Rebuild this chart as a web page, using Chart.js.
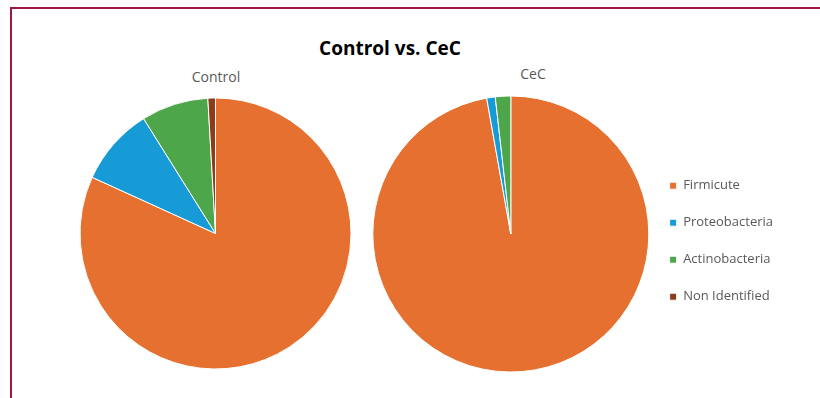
<!DOCTYPE html>
<html>
<head>
<meta charset="utf-8">
<script src="https://cdn.jsdelivr.net/npm/chart.js@4.4.0/dist/chart.umd.min.js"></script>
<style>
  html, body { margin: 0; padding: 0; background: #fff; }
  body { width: 820px; height: 398px; position: relative; overflow: hidden; font-family: "Open Sans", sans-serif; }
  #frame { position: absolute; left: 10px; top: 7px; width: 820px; height: 400px; border-top: 2px solid #a3154a; border-left: 2px solid #a3154a; }
  .txt { position: absolute; transform: translate(-50%, -50%); white-space: nowrap; }
  #title { left: 390px; top: 48px; font-size: 19px; font-weight: bold; color: #000; }
  .sub { font-size: 14px; color: #595959; }
  #c1 { position: absolute; left: 60px; top: 90px; }
  #c2 { position: absolute; left: 360px; top: 90px; }
</style>
</head>
<body>
<div id="frame"></div>
<div id="title" class="txt">Control vs. CeC</div>
<div class="txt sub" style="left:216px; top:76px;">Control</div>
<div class="txt sub" style="left:533px; top:73px;">CeC</div>
<canvas id="c1" width="311" height="287"></canvas>
<canvas id="c2" width="423" height="288"></canvas>
<script>
const phyla = ['Firmicute', 'Proteobacteria', 'Actinobacteria', 'Non Identified'];
const controlValues = [81.8, 9.3, 8.0, 0.9];
const cecValues = [97.2, 1.0, 1.8, 0];
const sliceColors = ['#e5702f', '#169bd6', '#4da64a', '#8c3b1b'];

function makePie(canvasId, values, radius, showLegend, padLeft) {
  const ctx = document.getElementById(canvasId).getContext('2d');
  return new Chart(ctx, {
    type: 'pie',
    data: {
      labels: phyla,
      datasets: [{
        data: values,
        backgroundColor: sliceColors,
        borderColor: '#ffffff',
        borderWidth: 1,
        radius: radius,
        clip: false
      }]
    },
    options: {
      responsive: false,
      animation: false,
      layout: { padding: { left: padLeft } },
      plugins: {
        title: { display: false },
        tooltip: { enabled: false },
        legend: {
          display: showLegend,
          position: 'right',
          // empty legend title only pushes the items down a little
          title: { display: true, text: '', padding: 0, font: { size: 12 } },
          labels: {
            boxWidth: 7,
            boxHeight: 7,
            padding: 24,
            color: '#595959',
            font: { family: 'Open Sans', size: 13 }
          }
        }
      }
    }
  });
}

makePie('c1', controlValues, 135.5, false, 0);
makePie('c2', cecValues, 138, true, 16);
</script>
</body>
</html>
